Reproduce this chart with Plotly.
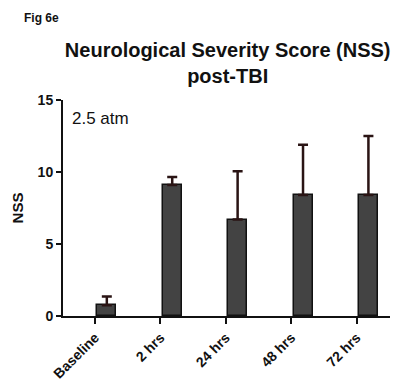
import plotly.graph_objects as go

# NSS after traumatic brain injury (2.5 atm), mean with upper SD
categories = ["Baseline", "2 hrs", "24 hrs", "48 hrs", "72 hrs"]
nss_mean = [0.75, 9.1, 6.7, 8.4, 8.4]
nss_err = [0.6, 0.55, 3.35, 3.5, 4.1]
y_ticks = [0, 5, 10, 15]

positions = list(range(len(categories)))
tick_positions = [p - 0.18 for p in positions]

FONT = "Arial, Liberation Sans, sans-serif"

fig = go.Figure()
fig.add_trace(go.Bar(
    x=positions,
    y=nss_mean,
    width=0.29,
    marker=dict(color="#434343", line=dict(color="#111111", width=1.5)),
    error_y=dict(
        type="data",
        symmetric=False,
        array=nss_err,
        arrayminus=[0] * len(nss_err),
        color="#2a1414",
        thickness=2.5,
        width=5,
    ),
    showlegend=False,
))

fig.update_layout(
    width=403,
    height=385,
    margin=dict(l=63, r=13, t=100, b=69),
    paper_bgcolor="white",
    plot_bgcolor="white",
    font=dict(family=FONT, color="#111111"),
    title=dict(
        text="<b>Neurological Severity Score (NSS)<br>post-TBI</b>",
        x=0.565,
        xanchor="center",
        y=0.853,
        yanchor="middle",
        font=dict(size=20, family=FONT, color="#111111"),
    ),
    bargap=0,
)

fig.update_xaxes(
    range=[-0.67, 4.33],
    tickvals=tick_positions,
    ticktext=[f"<b>{c}</b>" for c in categories],
    tickangle=-45,
    ticks="outside",
    ticklen=6,
    tickwidth=2,
    tickcolor="#111111",
    showline=True,
    linecolor="#111111",
    linewidth=2,
    showgrid=False,
    zeroline=False,
    automargin=False,
    tickfont=dict(size=14, family=FONT),
)

fig.update_yaxes(
    range=[0, 15],
    tickvals=y_ticks,
    ticktext=[f"<b>{v}</b>" for v in y_ticks],
    ticks="outside",
    ticklen=5,
    tickwidth=2,
    tickcolor="#111111",
    showline=True,
    linecolor="#111111",
    linewidth=2,
    showgrid=False,
    zeroline=False,
    automargin=False,
    tickfont=dict(size=14, family=FONT),
    title=dict(text="<b>NSS</b>", font=dict(size=15, family=FONT), standoff=10),
)

fig.add_annotation(
    text="<b>Fig 6e</b>", xref="paper", yref="paper",
    x=-0.125, y=1.38, xanchor="left", yanchor="middle",
    showarrow=False, font=dict(size=12, family=FONT, color="#111111"),
)
fig.add_annotation(
    text="2.5 atm", xref="paper", yref="y",
    x=0.02, y=13.7, xanchor="left", yanchor="middle",
    showarrow=False, font=dict(size=17, family=FONT, color="#111111"),
)

fig.write_html("out.html")
